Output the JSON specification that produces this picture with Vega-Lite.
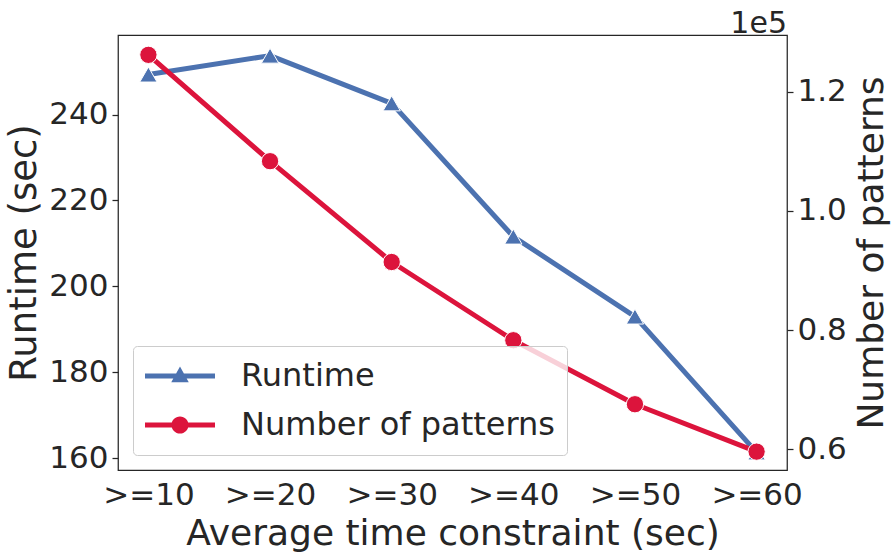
{
  "$schema": "https://vega.github.io/schema/vega-lite/v6.json",
  "autosize": "none",
  "width": 669,
  "height": 435,
  "padding": {"left": 118, "top": 35, "right": 107, "bottom": 88},
  "background": "white",
  "title": {"text": "1e5", "anchor": "end", "frame": "group", "fontSize": 30, "fontWeight": "normal", "color": "#262626", "font": "DejaVu Sans", "offset": -4},
  "data": {"values": [
    {"cons": ">=10", "series": "Runtime", "value": 249.3},
    {"cons": ">=20", "series": "Runtime", "value": 253.7},
    {"cons": ">=30", "series": "Runtime", "value": 242.6},
    {"cons": ">=40", "series": "Runtime", "value": 211.6},
    {"cons": ">=50", "series": "Runtime", "value": 193.0},
    {"cons": ">=60", "series": "Runtime", "value": 161.4},
    {"cons": ">=10", "series": "Number of patterns", "value": 126200},
    {"cons": ">=20", "series": "Number of patterns", "value": 108350},
    {"cons": ">=30", "series": "Number of patterns", "value": 91430},
    {"cons": ">=40", "series": "Number of patterns", "value": 78300},
    {"cons": ">=50", "series": "Number of patterns", "value": 67560},
    {"cons": ">=60", "series": "Number of patterns", "value": 59600}
  ]},
  "encoding": {
    "x": {"field": "cons", "type": "ordinal", "sort": null,
      "scale": {"type": "point", "padding": 0.25},
      "axis": {"title": "Average time constraint (sec)", "labelAngle": 0, "ticks": false, "domain": false, "labelPadding": 10, "titlePadding": 6}}
  },
  "layer": [
    {
      "transform": [{"filter": "datum.series === 'Runtime'"}],
      "encoding": {
        "y": {"field": "value", "type": "quantitative",
          "scale": {"domain": [157.3, 258.5], "nice": false, "zero": false},
          "axis": {"orient": "left", "title": "Runtime (sec)", "titleFontSize": 37, "values": [160, 180, 200, 220, 240], "domain": false, "grid": false, "tickSize": 6, "labelPadding": 4, "titlePadding": 5}}
      },
      "layer": [
        {"mark": {"type": "line", "color": "#4C72B0", "strokeWidth": 5, "strokeJoin": "round"}},
        {"mark": {"type": "point", "shape": "triangle-up", "filled": true, "size": 300, "fill": "#4C72B0", "stroke": "white", "strokeWidth": 1, "opacity": 1}}
      ]
    },
    {
      "transform": [{"filter": "datum.series === 'Number of patterns'"}],
      "encoding": {
        "y": {"field": "value", "type": "quantitative",
          "scale": {"domain": [56520, 129530], "nice": false, "zero": false},
          "axis": {"orient": "right", "title": "Number of patterns", "values": [60000, 80000, 100000, 120000], "labelExpr": "format(datum.value / 100000, '.1f')", "domain": false, "grid": false, "tickSize": 6, "labelPadding": 4, "titlePadding": 8, "titleAngle": 270, "titleBaseline": "top"}}
      },
      "layer": [
        {"mark": {"type": "line", "color": "#DC143C", "strokeWidth": 5, "strokeJoin": "round"}},
        {"mark": {"type": "point", "shape": "circle", "filled": true, "size": 300, "fill": "#DC143C", "stroke": "white", "strokeWidth": 1, "opacity": 1}}
      ]
    },
    {
      "transform": [{"filter": "datum.series === 'none'"}],
      "mark": {"type": "point", "filled": true, "opacity": 1},
      "encoding": {
        "color": {"field": "series", "type": "nominal",
          "scale": {"domain": ["Runtime", "Number of patterns"], "range": ["#4C72B0", "#DC143C"]},
          "legend": {"title": null, "orient": "bottom-left", "offset": 15}},
        "shape": {"field": "series", "type": "nominal",
          "scale": {"domain": ["Runtime", "Number of patterns"], "range": [
            "M-1,-0.07H1V0.07H-1Z M0,-0.27L0.25,0.18L-0.25,0.18Z",
            "M-1,-0.07H1V0.07H-1Z M-0.245,0A0.245,0.245,0,1,1,0.245,0A0.245,0.245,0,1,1,-0.245,0Z"
          ]},
          "legend": {"title": null, "orient": "bottom-left", "offset": 15}}
      }
    }
  ],
  "resolve": {"scale": {"y": "independent"}},
  "config": {
    "font": "DejaVu Sans",
    "view": {"stroke": "#262626", "strokeWidth": 1.25},
    "axis": {"labelFontSize": 31, "titleFontSize": 36, "labelColor": "#262626", "titleColor": "#262626", "tickColor": "#262626", "tickWidth": 1.25, "titleFontWeight": "normal", "labelFont": "DejaVu Sans", "titleFont": "DejaVu Sans"},
    "legend": {"labelFontSize": 32, "labelLimit": 0, "labelColor": "#262626", "labelFont": "DejaVu Sans", "symbolSize": 4900, "symbolStrokeWidth": 0, "labelOffset": 26, "padding": 12, "rowPadding": 13, "clipHeight": 36, "fillColor": "rgba(255,255,255,0.8)", "strokeColor": "#cccccc", "cornerRadius": 4, "symbolOpacity": 1}
  }
}
